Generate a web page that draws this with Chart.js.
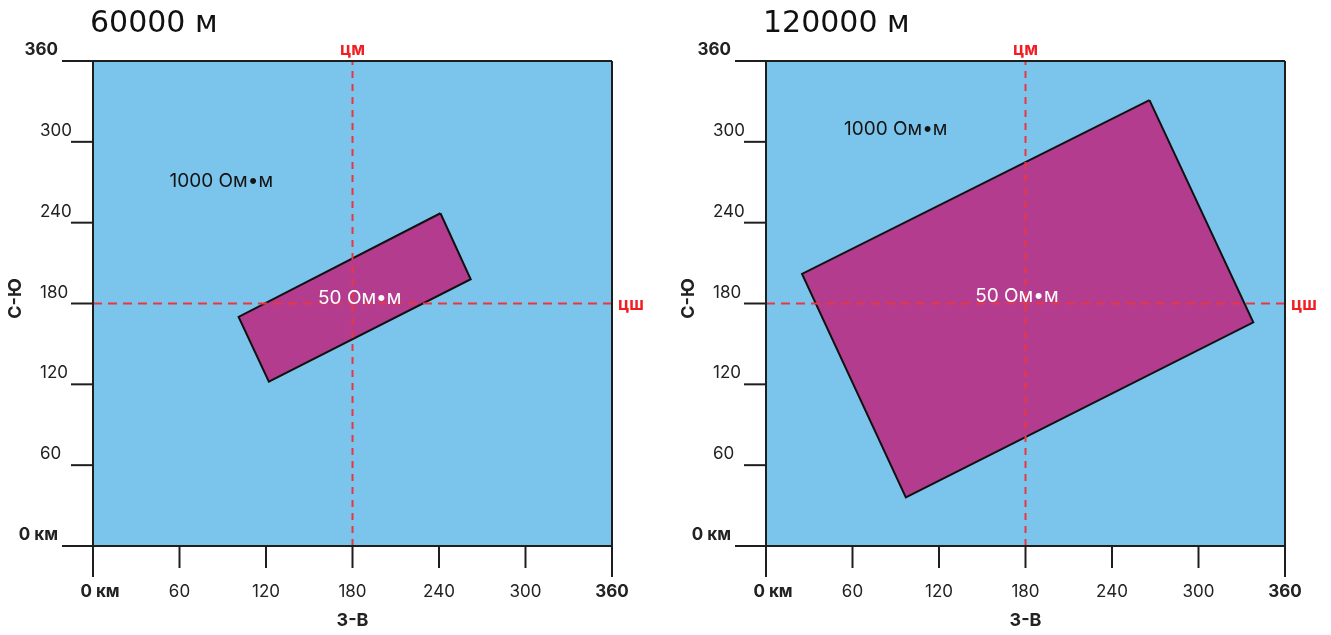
<!DOCTYPE html>
<html>
<head>
<meta charset="utf-8">
<script src="https://cdn.jsdelivr.net/npm/chart.js@4.4.1/dist/chart.umd.min.js"></script>
<style>
  html, body { margin: 0; padding: 0; background: #ffffff; }
  #wrap { position: relative; width: 1331px; height: 635px; overflow: hidden; }
  canvas { position: absolute; top: 0; }
  #left { left: 0; }
  #right { left: 673px; }
</style>
</head>
<body>
<div id="wrap">
  <canvas id="left" width="673" height="635"></canvas>
  <canvas id="right" width="658" height="635"></canvas>
</div>
<script>
// Grid of the model: 0..360 km on both axes
const axisTicks = [0, 60, 120, 180, 240, 300, 360];
const axisLabelsX = ['0 км', '60', '120', '180', '240', '300', '360'];
const axisLabelsY = ['0 км', '60', '120', '180', '240', '300', '360'];
const domainX = [0, 360, 360, 0, 0];
const domainY = [0, 0, 360, 360, 0];

// Centre lines (central meridian / central parallel)
const centreX = 180;
const centreY = 180;

// Conductive body corners, depth 60000 m
const body60X = [241, 262, 122, 101];
const body60Y = [247, 198, 122, 170];

// Conductive body corners, depth 120000 m
const body120X = [266, 338, 97, 25];
const body120Y = [331, 166, 36, 202];

const panelTitles = ['60000 м', '120000 м'];
const hostText = '1000 Ом•м';
const bodyText = '50 Ом•м';

const FONT = 'Inter, "DejaVu Sans", sans-serif';

function closedPoly(xs, ys) {
  const pts = xs.map((x, i) => ({ x: x, y: ys[i] }));
  pts.push({ x: xs[0], y: ys[0] });
  return pts;
}

// Axes frame, ticks, labels and annotations
const decorations = {
  id: 'decorations',
  afterDraw(chart, args, o) {
    const { ctx } = chart;
    const sx = chart.scales.x, sy = chart.scales.y;
    ctx.save();

    // frame
    ctx.strokeStyle = '#1e1e1e';
    ctx.lineWidth = 2;
    const seg = (x1, y1, x2, y2) => { ctx.beginPath(); ctx.moveTo(x1, y1); ctx.lineTo(x2, y2); ctx.stroke(); };
    const left = sx.getPixelForValue(0), right = sx.getPixelForValue(360);
    const top = sy.getPixelForValue(360), bottom = sy.getPixelForValue(0);
    seg(left - 31, top, right, top);
    seg(left - 31, bottom, right, bottom);
    seg(left, top, left, bottom + 31);
    seg(right, top, right, bottom + 31);

    // inner ticks
    axisTicks.forEach(v => {
      if (v === 0 || v === 360) return;
      const px = sx.getPixelForValue(v);
      seg(px, bottom, px, bottom + 22);
      const py = sy.getPixelForValue(v);
      seg(left - 22, py, left, py);
    });

    // tick labels
    ctx.fillStyle = '#222222';
    ctx.textBaseline = 'middle';
    axisTicks.forEach((v, i) => {
      const end = (v === 0 || v === 360);
      const py = sy.getPixelForValue(v);
      if (end) {
        ctx.font = 'bold 17px ' + FONT;
        ctx.textAlign = 'right';
        ctx.fillText(axisLabelsY[i], left - 35, py - 11);
      } else {
        ctx.font = '17px ' + FONT;
        ctx.textAlign = 'left';
        ctx.fillText(axisLabelsY[i], left - 53, py - 11);
      }
      const px = sx.getPixelForValue(v);
      ctx.textAlign = 'center';
      ctx.font = (end ? 'bold ' : '') + '17px ' + FONT;
      ctx.fillText(axisLabelsX[i], px + (v === 0 ? 7 : 0), bottom + 46);
    });

    // axis titles
    ctx.font = 'bold 18px ' + FONT;
    ctx.textAlign = 'center';
    ctx.fillText('З-В', (left + right) / 2, bottom + 75);
    ctx.save();
    ctx.translate(16, (top + bottom) / 2 - 5);
    ctx.rotate(-Math.PI / 2);
    ctx.fillText('С-Ю', 0, 0);
    ctx.restore();

    // centre line captions
    ctx.fillStyle = '#f21d22';
    ctx.font = 'bold 17px ' + FONT;
    ctx.textAlign = 'center';
    ctx.fillText('цм', sx.getPixelForValue(centreX), top - 11);
    ctx.textAlign = 'left';
    ctx.fillText('цш', right + 6, sy.getPixelForValue(centreY) + 1);

    // panel title
    ctx.fillStyle = '#111111';
    ctx.font = '30px "DejaVu Sans", sans-serif';
    ctx.textAlign = 'left';
    ctx.fillText(o.title, left - 3, 24);

    // resistivity labels
    ctx.textAlign = 'center';
    ctx.font = '19px ' + FONT;
    ctx.fillStyle = '#141414';
    ctx.fillText(hostText, sx.getPixelForValue(o.hostAt[0]), sy.getPixelForValue(o.hostAt[1]));
    ctx.fillStyle = '#ffffff';
    ctx.fillText(bodyText, sx.getPixelForValue(o.bodyAt[0]), sy.getPixelForValue(o.bodyAt[1]));

    ctx.restore();
  }
};

function makePanel(id, bodyX, bodyY, opts) {
  const canvas = document.getElementById(id);
  const w = canvas.width;
  return new Chart(canvas, {
    type: 'scatter',
    data: {
      datasets: [
        {
          label: 'цм',
          data: [{ x: centreX, y: 0 }, { x: centreX, y: 360 }],
          showLine: true, pointRadius: 0, borderColor: '#ea3641', borderWidth: 2,
          borderDash: [7, 6], fill: false
        },
        {
          label: 'цш',
          data: [{ x: 0, y: centreY }, { x: 360, y: centreY }],
          showLine: true, pointRadius: 0, borderColor: '#ea3641', borderWidth: 2,
          borderDash: [9, 6], fill: false
        },
        {
          label: bodyText,
          data: closedPoly(bodyX, bodyY),
          showLine: true, pointRadius: 0, borderColor: '#111111', borderWidth: 2,
          backgroundColor: '#b43c8f', fill: 'shape', tension: 0
        },
        {
          label: hostText,
          data: closedPoly(domainX, domainY),
          showLine: true, pointRadius: 0, borderWidth: 0, borderColor: 'rgba(0,0,0,0)',
          backgroundColor: '#7bc4eb', fill: 'shape', tension: 0
        }
      ]
    },
    options: {
      responsive: false,
      animation: false,
      devicePixelRatio: 1,
      layout: { padding: { left: 93, top: 61, right: w - 612, bottom: 89 } },
      scales: {
        x: { type: 'linear', min: 0, max: 360, display: false },
        y: { type: 'linear', min: 0, max: 360, display: false }
      },
      plugins: {
        legend: { display: false },
        tooltip: { enabled: false },
        decorations: opts
      }
    },
    plugins: [decorations]
  });
}

makePanel('left', body60X, body60Y, { title: panelTitles[0], hostAt: [89, 271], bodyAt: [185, 184] });
makePanel('right', body120X, body120Y, { title: panelTitles[1], hostAt: [90, 309], bodyAt: [174, 185] });
</script>
</body>
</html>
